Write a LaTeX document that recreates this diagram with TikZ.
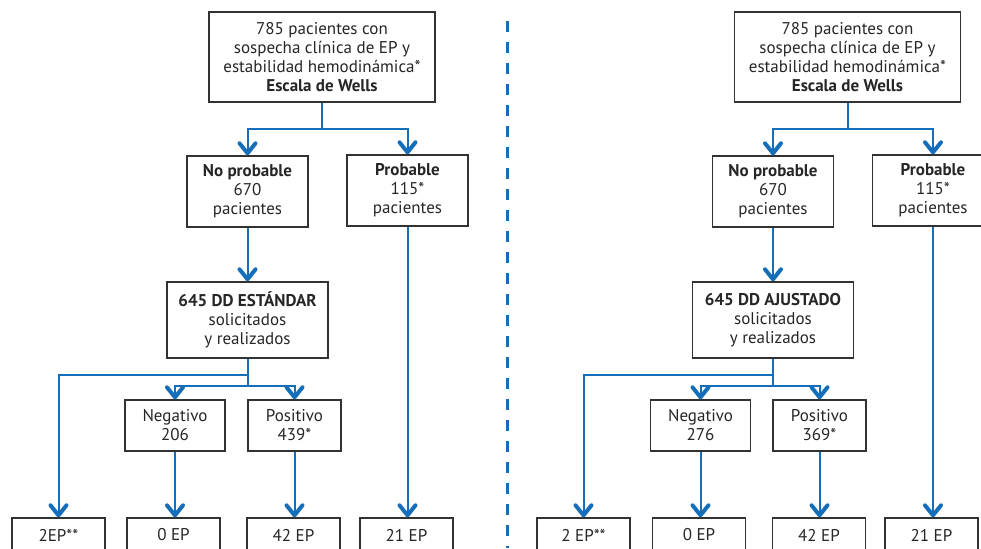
\documentclass[tikz,border=0pt]{standalone}
\usepackage{fontspec}
\setmainfont{PT Sans}
\usetikzlibrary{arrows.meta}
\definecolor{conn}{RGB}{20,110,186}
\definecolor{boxline}{RGB}{50,50,50}
\begin{document}
\begin{tikzpicture}[x=1pt,y=-1pt,
  box/.style={draw=boxline,line width=1.4pt,rectangle,inner sep=0pt,align=center,
    font=\fontsize{17}{19}\selectfont,text=black!85},
  lnk/.style={draw=conn,line width=2pt},
  arr/.style={lnk,-{Straight Barb[length=10pt,width=16pt,line width=4pt,round]}},
]
\useasboundingbox (0,0) rectangle (981,548);
\clip (0,0) rectangle (981,548);
% ---------- left ----------
\node[box,minimum width=226pt,minimum height=90pt] (top) at (322,57)
  {785 pacientes con\\sospecha clínica de EP y\\estabilidad hemodinámica*\\\textbf{Escala de Wells}};
\node[box,minimum width=121pt,minimum height=71pt] (nop) at (247.5,191.5)
  {\textbf{No probable}\\670\\pacientes};
\node[box,minimum width=121pt,minimum height=71pt] (prob) at (407.5,190.5)
  {\textbf{Probable}\\115*\\pacientes};
\node[box,minimum width=161pt,minimum height=76pt] (dd) at (247.5,320)
  {\textbf{645 DD ESTÁNDAR}\\solicitados\\y realizados};
\node[box,minimum width=100pt,minimum height=51pt] (neg) at (175,425.5)
  {Negativo\\206};
\node[box,minimum width=93pt,minimum height=51pt] (pos) at (294.5,425.5)
  {Positivo\\439*};
\node[box,minimum width=93pt,minimum height=34pt] (b1) at (58.5,535) {2EP**};
\node[box,minimum width=93pt,minimum height=34pt] (b2) at (173.5,535) {0 EP};
\node[box,minimum width=93pt,minimum height=34pt] (b3) at (293.5,535) {42 EP};
\node[box,minimum width=93pt,minimum height=34pt] (b4) at (406.5,535) {21 EP};
\coordinate (s1) at (322,129);
\coordinate (j1) at (247.5,375);
\coordinate (j2) at (247.5,386);
\draw[lnk] (top.south) -- (s1);
\draw[arr] (s1) -| (nop.north);
\draw[arr] (s1) -| (prob.north);
\draw[arr] (nop.south) -- (dd.north);
\draw[lnk] (dd.south) -- (j2);
\draw[arr] (j1) -| (b1.north);
\draw[arr] (j2) -| (neg.north);
\draw[arr] (j2) -| (pos.north);
\draw[arr] (neg.south) -- (neg.south |- b2.north);
\draw[arr] (pos.south) -- (pos.south |- b3.north);
\draw[arr] (prob.south) -- (prob.south |- b4.north);
% ---------- divider ----------
\coordinate (dv1) at (507,21);
\coordinate (dv2) at (507,548);
\draw[draw=conn,line width=3pt,dash pattern=on 11pt off 10pt] (dv1) -- (dv2);
% ---------- right ----------
\node[box,minimum width=226pt,minimum height=90pt] (rtop) at (847.5,57)
  {785 pacientes con\\sospecha clínica de EP y\\estabilidad hemodinámica*\\\textbf{Escala de Wells}};
\node[box,minimum width=121pt,minimum height=71pt] (rnop) at (773,191.5)
  {\textbf{No probable}\\670\\pacientes};
\node[box,minimum width=121pt,minimum height=71pt] (rprob) at (933,190.5)
  {\textbf{Probable}\\115*\\pacientes};
\node[box,minimum width=161pt,minimum height=76pt] (rdd) at (773,320)
  {\textbf{645 DD AJUSTADO}\\solicitados\\y realizados};
\node[box,minimum width=100pt,minimum height=51pt] (rneg) at (700.5,425.5)
  {Negativo\\276};
\node[box,minimum width=93pt,minimum height=51pt] (rpos) at (819.5,425.5)
  {Positivo\\369*};
\node[box,minimum width=93pt,minimum height=34pt] (rb1) at (583.5,535) {2 EP**};
\node[box,minimum width=93pt,minimum height=34pt] (rb2) at (699,535) {0 EP};
\node[box,minimum width=93pt,minimum height=34pt] (rb3) at (819,535) {42 EP};
\node[box,minimum width=93pt,minimum height=34pt] (rb4) at (931.5,535) {21 EP};
\coordinate (rs1) at (847.5,129);
\coordinate (rj1) at (773,375);
\coordinate (rj2) at (773,386);
\draw[lnk] (rtop.south) -- (rs1);
\draw[arr] (rs1) -| (rnop.north);
\draw[arr] (rs1) -| (rprob.north);
\draw[arr] (rnop.south) -- (rdd.north);
\draw[lnk] (rdd.south) -- (rj2);
\draw[arr] (rj1) -| (rb1.north);
\draw[arr] (rj2) -| (rneg.north);
\draw[arr] (rj2) -| (rpos.north);
\draw[arr] (rneg.south) -- (rneg.south |- rb2.north);
\draw[arr] (rpos.south) -- (rpos.south |- rb3.north);
\draw[arr] (rprob.south) -- (rprob.south |- rb4.north);
\end{tikzpicture}
\end{document}
